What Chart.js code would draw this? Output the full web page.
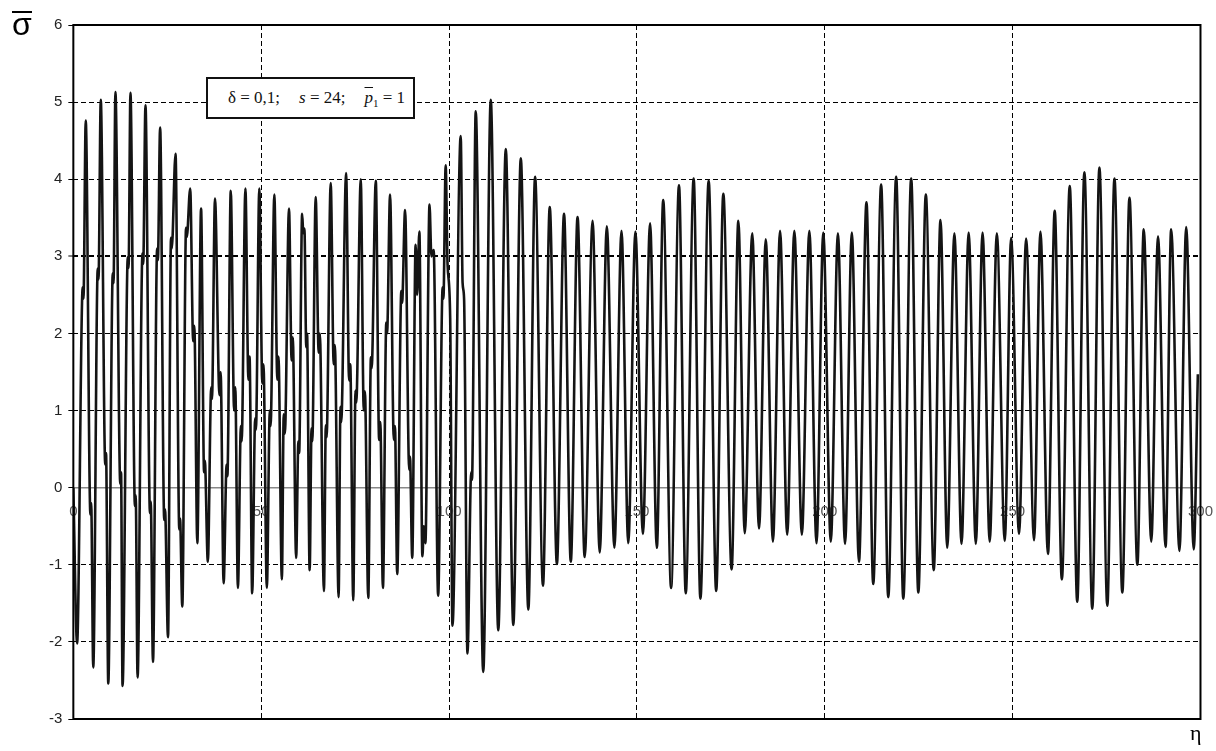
<!DOCTYPE html>
<html>
<head>
<meta charset="utf-8">
<style>
    body { margin: 0; background: #fff; }
    #wrap { position: relative; width: 1216px; height: 751px; }
    #sigmaLabel { position: absolute; left: 12px; top: 11px; }
    #sigmaLabel span {
        display: block; font: 32px 'Liberation Sans', Arial, sans-serif;
        line-height: 22px; border-top: 2px solid #000; color: #000;
    }
    #etaLabel { position: absolute; left: 1190px; top: 722px; font: 22px 'Liberation Serif', serif; line-height: 22px; }
    #paramBox {
        position: absolute; left: 206px; top: 77px; width: 209px; height: 42px;
        box-sizing: border-box; border: 2px solid #111; background: #fff;
        font: 17px 'Liberation Serif', 'Times New Roman', serif; line-height: 38px;
        padding-left: 20px; white-space: nowrap; color: #111;
    }
    #paramBox .gap { display: inline-block; width: 19px; }
    #paramBox .over { text-decoration: overline; }
    #paramBox sub { font-size: 11px; line-height: 0; color: #111; }
</style>
<script src="https://cdn.jsdelivr.net/npm/chart.js@4.4.0/dist/chart.umd.min.js"></script>
</head>
<body>
<div id="wrap">
    <canvas id="sigmaChart" width="1216" height="751"></canvas>
    <div id="sigmaLabel"><span>σ</span></div>
    <div id="etaLabel">η</div>
    <div id="paramBox">δ = 0,1;<span class="gap"></span><i>s</i> = 24;<span class="gap"></span><i class="over">p</i><sub>1</sub> = 1</div>
</div>
<script>
// okunan degerler (tepe / dip noktalari), 50'lik parcalar halinde
const eta1 = [0, 1.0, 2.5, 2.7, 3.3, 4.55, 4.75, 5.3, 6.5, 6.7, 7.3, 8.5, 8.7, 9.3, 10.5, 10.7, 11.2,
    12.5, 12.7, 13.1, 14.5, 14.7, 15.2, 16.4, 16.6, 17.1, 18.4, 18.6, 19.2, 20.4, 20.6, 21.2,
    22.3, 22.5, 23.1, 24.2, 24.4, 25.2, 26.0, 26.2, 27.2, 28.2, 28.4, 29.0, 30.0, 30.2, 31.1,
    31.9, 32.2, 33.0, 34.0, 34.8, 35.0, 35.8, 36.7, 36.9, 37.7, 38.9, 39.2, 40.0, 40.8, 41.0,
    41.9, 42.8, 43.1, 43.8, 44.6, 44.8, 45.8, 46.6, 46.9, 47.6, 48.4, 48.6, 49.5];
const sigma1 = [0.0, -2.02, 2.6, 2.45, 4.76, -0.35, -0.2, -2.33, 2.84, 2.7, 5.03, 0.3, 0.45, -2.54, 2.78, 2.65, 5.13,
    0.05, 0.2, -2.57, 2.99, 2.85, 5.12, -0.24, -0.1, -2.46, 3.04, 2.9, 4.96, -0.33, -0.18, -2.26,
    3.1, 2.95, 4.67, -0.42, -0.28, -1.94, 3.24, 3.1, 4.33, -0.54, -0.4, -1.54, 3.37, 3.25, 3.88,
    1.9, 2.1, -0.72, 3.62, 0.2, 0.35, -0.96, 1.3, 1.15, 3.75, 1.2, 1.5, -1.24, 0.3, 0.15,
    3.85, 1.0, 1.3, -1.30, 0.8, 0.6, 3.88, 1.4, 1.7, -1.37, 0.9, 0.75, 3.88];

const eta2 = [50.3, 50.6, 51.5, 52.3, 52.5, 53.5, 54.3, 54.6, 55.5, 56.0, 56.3, 57.4, 58.1, 58.4, 59.3,
    59.9, 60.1, 60.9, 61.2, 61.5, 62.0, 62.2, 62.9, 63.4, 63.6, 64.5, 65.3, 65.6, 66.7, 67.2, 67.4,
    68.5, 69.3, 69.6, 70.6, 71.1, 71.3, 72.6, 73.4, 73.7, 74.5, 75.1, 75.3, 76.5, 77.3, 77.6, 78.5,
    79.2, 79.4, 80.5, 81.4, 81.7, 82.4, 83.3, 83.5, 84.3, 85.3, 85.6, 86.2, 87.3, 87.5, 88.3,
    89.4, 89.6, 90.2, 91.1, 91.5, 92.1, 92.9, 93.3, 93.7, 94.8, 95.3, 95.9, 97.1, 98.3, 98.5, 99.1, 99.6];
const sigma2 = [1.35, 1.6, -1.30, 1.0, 0.8, 3.80, 1.4, 1.7, -1.19, 0.95, 0.7, 3.62, 1.65, 1.95, -0.91,
    0.6, 0.45, 3.55, 3.3, 3.36, 1.82, 2.0, -1.07, 0.77, 0.6, 3.77, 1.75, 2.0, -1.34, 0.81, 0.65,
    3.95, 1.6, 1.85, -1.42, 1.05, 0.85, 4.08, 1.39, 1.6, -1.46, 1.26, 1.1, 4.00, 1.0, 1.25, -1.43,
    1.69, 1.55, 3.98, 0.62, 0.85, -1.30, 2.14, 2.0, 3.80, 0.62, 0.8, -1.12, 2.55, 2.4, 3.60,
    0.23, 0.4, -0.91, 3.15, 2.5, 3.32, -0.89, -0.5, -0.72, 3.67, 3.0, 3.08, -1.40, 2.6, 2.45, 4.18, 2.9];

const eta3 = [100.3, 100.9, 103.1, 103.6, 104.0, 104.9, 105.9, 106.1, 107.1, 109.1, 111.1, 113.1, 115.1,
    117.1, 119.1, 121.1, 122.9, 125.0, 126.8, 128.7, 130.6, 132.4, 134.2, 136.1, 138.2, 140.1,
    142.0, 144.0, 145.9, 147.7, 149.6];
const sigma3 = [2.2, -1.79, 4.56, 2.66, 2.45, -2.15, 0.2, 0.1, 4.88, -2.39, 5.03, -1.85, 4.39,
    -1.78, 4.27, -1.58, 4.03, -1.27, 3.64, -0.99, 3.55, -0.96, 3.51, -0.90, 3.46, -0.84,
    3.39, -0.78, 3.33, -0.72, 3.32];

const eta4 = [151.6, 153.5, 155.3, 157.0, 159.1, 161.2, 163.0, 165.1, 166.9, 169.1, 171.1, 173.0, 175.2,
    177.0, 178.7, 180.7, 182.5, 184.3, 186.2, 188.1, 190.0, 191.9, 193.9, 195.9, 197.8, 199.6];
const sigma4 = [-0.60, 3.43, -0.78, 3.73, -1.30, 3.92, -1.37, 4.01, -1.44, 3.98, -1.34, 3.81, -1.06,
    3.46, -0.59, 3.30, -0.53, 3.22, -0.70, 3.33, -0.61, 3.33, -0.61, 3.33, -0.72, 3.31];

const eta5 = [201.6, 203.5, 205.4, 207.2, 209.1, 211.1, 212.9, 215.0, 216.9, 219.0, 220.9, 223.0, 224.9,
    226.9, 229.0, 230.8, 232.6, 234.5, 236.4, 238.3, 240.2, 242.0, 243.9, 245.8, 247.9, 249.6];
const sigma5 = [-0.70, 3.30, -0.73, 3.31, -0.96, 3.70, -1.25, 3.93, -1.42, 4.03, -1.44, 4.01, -1.36,
    3.80, -1.07, 3.47, -0.78, 3.30, -0.73, 3.31, -0.73, 3.31, -0.70, 3.30, -0.69, 3.24];

const eta6 = [251.7, 253.6, 255.7, 257.4, 259.4, 261.2, 263.1, 265.2, 267.2, 269.1, 271.2, 273.1, 275.2,
    277.1, 279.2, 281.1, 283.2, 284.9, 286.9, 288.7, 290.7, 292.2, 294.4, 296.2, 298.2, 299.3];
const sigma6 = [-0.60, 3.23, -0.68, 3.32, -0.86, 3.59, -1.19, 3.91, -1.48, 4.09, -1.57, 4.15, -1.53,
    4.01, -1.36, 3.76, -1.00, 3.35, -0.70, 3.26, -0.77, 3.35, -0.82, 3.38, -0.80, 1.47];

// eksenler
const etaTicks = [0, 50, 100, 150, 200, 250, 300];
const sigmaTicks = [-3, -2, -1, 0, 1, 2, 3, 4, 5, 6];

const etaAll = [].concat(eta1, eta2, eta3, eta4, eta5, eta6);
const sigmaAll = [].concat(sigma1, sigma2, sigma3, sigma4, sigma5, sigma6);
const points = etaAll.map((e, i) => ({ x: e, y: sigmaAll[i] }));

const tickFont = { family: "'Liberation Sans', Arial, sans-serif", size: 15 };

// cerceve (plot alaninin kenarlari)
const framePlugin = {
    id: 'frame',
    afterDatasetsDraw(chart) {
        const { ctx, chartArea: a } = chart;
        ctx.save();
        ctx.strokeStyle = '#000';
        ctx.lineWidth = 2;
        ctx.strokeRect(a.left, a.top, a.right - a.left, a.bottom - a.top);
        ctx.restore();
    }
};

new Chart(document.getElementById('sigmaChart'), {
    type: 'line',
    data: {
        datasets: [{
            data: points,
            borderColor: '#141414',
            borderWidth: 2.6,
            pointRadius: 0,
            fill: false,
            cubicInterpolationMode: 'monotone'
        }]
    },
    options: {
        responsive: false,
        animation: false,
        layout: { padding: { left: 43, right: 0, top: 25, bottom: 32 } },
        plugins: { legend: { display: false }, tooltip: { enabled: false } },
        scales: {
            x: {
                type: 'linear', min: 0, max: 300,
                position: { y: 0 },
                afterBuildTicks: axis => { axis.ticks = etaTicks.map(v => ({ value: v })); },
                ticks: { color: '#555', font: tickFont, padding: 3, maxRotation: 0, autoSkip: false },
                grid: {
                    drawTicks: true, tickLength: 12, tickColor: 'rgba(0,0,0,0)',
                    color: c => (c.tick && (c.tick.value === 0 || c.tick.value === 300)) ? 'rgba(0,0,0,0)' : '#000'
                },
                border: { display: true, color: '#888', width: 1.5, dash: [5, 3] }
            },
            y: {
                type: 'linear', min: -3, max: 6,
                afterBuildTicks: axis => { axis.ticks = sigmaTicks.map(v => ({ value: v })); },
                ticks: { color: '#222', font: tickFont, padding: 6 },
                grid: {
                    tickLength: 5, tickColor: '#000', tickWidth: 1,
                    color: c => (c.tick && [6, 0, -3].includes(c.tick.value)) ? 'rgba(0,0,0,0)' : '#000',
                    lineWidth: c => (c.tick && c.tick.value === 3) ? 2 : 1
                },
                border: { display: false, dash: [5, 3] }
            }
        }
    },
    plugins: [framePlugin]
});
</script>
</body>
</html>
